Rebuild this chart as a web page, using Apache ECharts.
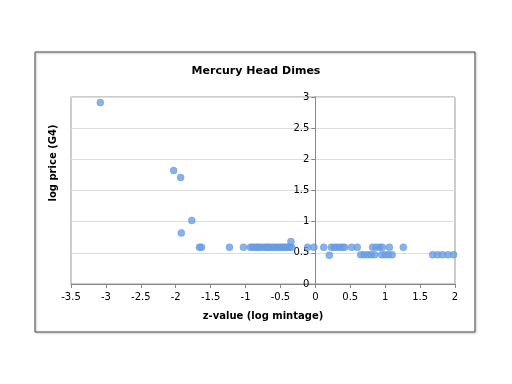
<!DOCTYPE html>
<html>
<head>
<meta charset="utf-8">
<script src="https://cdn.jsdelivr.net/npm/echarts@6/dist/echarts.min.js"></script>
<style>
  html, body { margin: 0; padding: 0; background: #fff; }
  #chart { width: 512px; height: 384px; }
</style>
</head>
<body>
<div id="chart"></div>
<script>
// z-value (log mintage) and log price (G4)
var zValues = [
  -3.08, -2.03, -1.93, -1.77, -1.92,
  -1.66, -1.63, -1.23, -1.03, -0.93, -0.90, -0.86, -0.83, -0.80, -0.76, -0.72,
  -0.69, -0.66, -0.62, -0.59, -0.55, -0.52, -0.49, -0.46, -0.43, -0.40, -0.37, -0.34,
  -0.35, -0.11, -0.02, 0.12, 0.23, 0.27, 0.31, 0.35, 0.39, 0.42, 0.52, 0.60,
  0.82, 0.87, 0.92, 0.96, 1.06, 1.26,
  0.20, 0.65, 0.70, 0.75, 0.80, 0.85, 0.95, 1.00, 1.05, 1.10,
  1.68, 1.75, 1.82, 1.90, 1.98
]
var logPrices = [
  2.91, 1.82, 1.71, 1.02, 0.82,
  0.59, 0.59, 0.59, 0.59, 0.59, 0.59, 0.59, 0.59, 0.59, 0.59, 0.59,
  0.59, 0.59, 0.59, 0.59, 0.59, 0.59, 0.59, 0.59, 0.59, 0.59, 0.59, 0.59,
  0.68, 0.59, 0.59, 0.59, 0.59, 0.59, 0.59, 0.59, 0.59, 0.59, 0.59, 0.59,
  0.59, 0.59, 0.59, 0.59, 0.59, 0.59,
  0.46, 0.47, 0.47, 0.47, 0.47, 0.47, 0.47, 0.47, 0.47, 0.47,
  0.47, 0.47, 0.47, 0.47, 0.47
]

var points = zValues.map(function(z, i) {
  return [z, logPrices[i]]
})

var gridLeft = 71
var gridWidth = 384
var xMin = -3.5
var xMax = 2
// the y axis crosses at z = 0
var yAxisOffset = -gridWidth * (0 - xMin) / (xMax - xMin)

var chart = echarts.init(document.getElementById('chart'))
chart.setOption({
  animation: false,
  textStyle: { fontFamily: 'DejaVu Sans' },
  title: {
    text: 'Mercury Head Dimes',
    left: 'center',
    top: 61,
    textStyle: { fontSize: 11, fontWeight: 'bold', color: '#000' }
  },
  graphic: [
    {
      type: 'rect',
      shape: { x: 35, y: 52, width: 440, height: 280 },
      style: { fill: 'none', stroke: '#444', lineWidth: 1, shadowBlur: 2, shadowColor: 'rgba(0,0,0,0.3)', shadowOffsetX: 1, shadowOffsetY: 1 },
      z: -1
    },
    {
      type: 'text',
      x: 53,
      y: 163,
      rotation: Math.PI / 2,
      style: {
        text: 'log price (G4)',
        font: 'bold 10px "DejaVu Sans"',
        fill: '#000',
        align: 'center',
        verticalAlign: 'middle'
      }
    }
  ],
  grid: {
    left: gridLeft,
    width: gridWidth,
    top: 97,
    bottom: 100,
    show: true,
    borderColor: '#999',
    borderWidth: 1
  },
  xAxis: {
    type: 'value',
    min: xMin,
    max: xMax,
    interval: 0.5,
    name: 'z-value (log mintage)',
    nameLocation: 'middle',
    nameGap: 27,
    nameTextStyle: { fontSize: 10, fontWeight: 'bold', color: '#000' },
    axisLine: { onZero: false, lineStyle: { color: '#888' } },
    axisTick: { show: true, length: 4, lineStyle: { color: '#888' } },
    axisLabel: { fontSize: 10, color: '#000', margin: 8 },
    splitLine: { show: false }
  },
  yAxis: {
    type: 'value',
    min: 0,
    max: 3,
    interval: 0.5,
    position: 'left',
    offset: yAxisOffset,
    axisLine: { show: true, onZero: false, lineStyle: { color: '#888' } },
    axisTick: { show: true, length: 4, lineStyle: { color: '#888' } },
    axisLabel: { fontSize: 10, color: '#000', margin: 6 },
    splitLine: { show: true, lineStyle: { color: '#ddd' } }
  },
  series: [
    {
      type: 'scatter',
      data: points,
      symbol: 'circle',
      symbolSize: 7,
      itemStyle: { color: '#6a9fe6', borderColor: '#5b8fd8', borderWidth: 0.5 }
    }
  ]
})
</script>
</body>
</html>
